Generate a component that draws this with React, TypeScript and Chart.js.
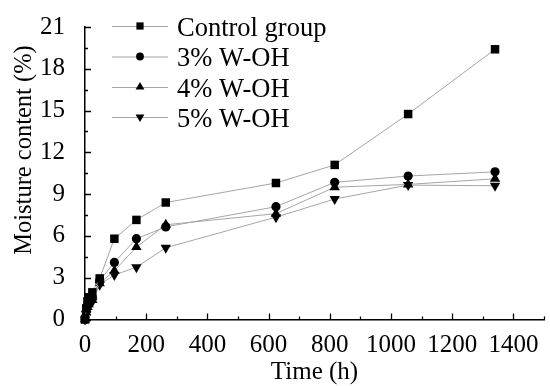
import { useEffect, useRef } from 'react';
import { Chart, registerables } from 'chart.js';

Chart.register(...registerables);

const hours = [0, 4, 8, 12, 24, 48, 96, 168, 264, 624, 816, 1056, 1340];
const seriesLabels = ['Control group', '3% W-OH', '4% W-OH', '5% W-OH'];
const controlGroup = [0, 0.8, 1.3, 1.6, 1.95, 2.95, 5.8, 7.15, 8.4, 9.8, 11.1, 14.75, 19.4];
const woh3 = [0, 0.6, 1.0, 1.3, 1.6, 2.8, 4.1, 5.8, 6.65, 8.1, 9.85, 10.3, 10.6];
const woh4 = [0, 0.5, 0.9, 1.1, 1.4, 2.6, 3.5, 5.2, 6.8, 7.6, 9.5, 9.7, 10.1];
const woh5 = [0, 0.4, 0.8, 1.0, 1.3, 2.5, 3.2, 3.75, 5.15, 7.35, 8.65, 9.65, 9.6];
const xTickValues = [0, 200, 400, 600, 800, 1000, 1200, 1400];
const xMinorValues = [100, 300, 500, 700, 900, 1100, 1300, 1500];
const yTickValues = [0, 3, 6, 9, 12, 15, 18, 21];
const yMinorValues = [1.5, 4.5, 7.5, 10.5, 13.5, 16.5, 19.5];
const xTitle = 'Time (h)';
const yTitle = 'Moisture content (%)';

const FONT = '"Liberation Serif", "Times New Roman", serif';
const LINE_COLOR = 'rgb(165,165,165)';

const markerStyles: any[] = ['rect', 'circle', 'triangle', 'triangle'];
const markerRotations = [0, 0, 0, 180];
const markerRadii = [6, 4.6, 6, 6];

function drawMarker(ctx: CanvasRenderingContext2D, style: string, rot: number, x: number, y: number, r: number) {
  ctx.beginPath();
  if (style === 'rect') {
    const s = r * Math.SQRT1_2;
    ctx.rect(x - s, y - s, 2 * s, 2 * s);
  } else if (style === 'circle') {
    ctx.arc(x, y, r, 0, Math.PI * 2);
  } else {
    let a = (rot * Math.PI) / 180;
    ctx.moveTo(x + Math.sin(a) * r, y - Math.cos(a) * r);
    a += (2 * Math.PI) / 3;
    ctx.lineTo(x + Math.sin(a) * r, y - Math.cos(a) * r);
    a += (2 * Math.PI) / 3;
    ctx.lineTo(x + Math.sin(a) * r, y - Math.cos(a) * r);
    ctx.closePath();
  }
  ctx.fill();
}

const decorPlugin = {
  id: 'decor',
  afterDraw(chart: any) {
    const ctx: CanvasRenderingContext2D = chart.ctx;
    const xs = chart.scales.x;
    const ys = chart.scales.y;
    const area = chart.chartArea;
    ctx.save();
    ctx.strokeStyle = '#000';
    ctx.lineWidth = 1.3;
    // inward ticks
    ctx.beginPath();
    xTickValues.forEach((v) => {
      const px = Math.round(xs.getPixelForValue(v)) + 0.5;
      ctx.moveTo(px, area.bottom);
      ctx.lineTo(px, area.bottom - 6);
    });
    xMinorValues.forEach((v) => {
      const px = Math.round(xs.getPixelForValue(v)) + 0.5;
      ctx.moveTo(px, area.bottom);
      ctx.lineTo(px, area.bottom - 3);
    });
    yTickValues.forEach((v) => {
      const py = Math.round(ys.getPixelForValue(v)) + 0.5;
      ctx.moveTo(area.left, py);
      ctx.lineTo(area.left + 6, py);
    });
    yMinorValues.forEach((v) => {
      const py = Math.round(ys.getPixelForValue(v)) + 0.5;
      ctx.moveTo(area.left, py);
      ctx.lineTo(area.left + 3, py);
    });
    ctx.stroke();

    // axis titles
    ctx.fillStyle = '#000';
    ctx.font = `25px ${FONT}`;
    ctx.textAlign = 'center';
    ctx.textBaseline = 'middle';
    ctx.fillText(xTitle, (area.left + area.right) / 2, 372);
    ctx.save();
    ctx.translate(25, 150);
    ctx.rotate(-Math.PI / 2);
    ctx.font = `24.5px ${FONT}`;
    ctx.fillText(yTitle, 0, 0);
    ctx.restore();

    // legend
    const rowY = [26, 56.5, 87, 117];
    chart.data.datasets.forEach((ds: any, i: number) => {
      const cy = rowY[i];
      ctx.strokeStyle = LINE_COLOR;
      ctx.lineWidth = 1;
      ctx.beginPath();
      ctx.moveTo(112, cy + 0.5);
      ctx.lineTo(168, cy + 0.5);
      ctx.stroke();
      ctx.fillStyle = '#000';
      drawMarker(ctx, markerStyles[i], markerRotations[i], 140, cy, markerRadii[i] * 0.85);
      ctx.font = `26.5px ${FONT}`;
      ctx.textAlign = 'left';
      ctx.textBaseline = 'alphabetic';
      ctx.fillText(ds.label, 177, cy + 9.5);
    });
    ctx.restore();
  },
};

export default function App() {
  const ref = useRef<HTMLCanvasElement | null>(null);
  useEffect(() => {
    if (!ref.current) return;
    document.body.style.margin = '0';
    const seriesValues = [controlGroup, woh3, woh4, woh5];
    const chart = new Chart(ref.current, {
      type: 'line',
      data: {
        datasets: seriesValues.map((vals, i) => ({
          label: seriesLabels[i],
          data: hours.map((h, j) => ({ x: h, y: vals[j] })),
          borderColor: LINE_COLOR,
          borderWidth: 1,
          backgroundColor: '#000',
          pointBackgroundColor: '#000',
          pointBorderColor: '#000',
          pointBorderWidth: 0,
          pointStyle: markerStyles[i],
          pointRotation: markerRotations[i],
          pointRadius: markerRadii[i],
          fill: false,
          tension: 0,
          clip: false as any,
        })),
      },
      options: {
        responsive: false,
        animation: false,
        layout: { padding: { top: 13, right: 5, left: 0, bottom: 0 } },
        plugins: {
          legend: { display: false },
          tooltip: { enabled: false },
        },
        scales: {
          x: {
            type: 'linear',
            min: 0,
            max: 1500,
            grid: { display: false },
            border: { display: true, color: '#000', width: 1.5 },
            afterBuildTicks: (s: any) => {
              s.ticks = xTickValues.map((v) => ({ value: v }));
            },
            afterFit: (s: any) => {
              s.height = 66.5;
            },
            ticks: {
              color: '#000',
              font: { family: FONT, size: 25 },
              padding: 3,
              maxRotation: 0,
              autoSkip: false,
              callback: (v: any) => String(v),
            },
          },
          y: {
            type: 'linear',
            min: 0,
            max: 21,
            grid: { display: false },
            border: { display: true, color: '#000', width: 1.5 },
            afterBuildTicks: (s: any) => {
              s.ticks = yTickValues.map((v) => ({ value: v }));
            },
            afterFit: (s: any) => {
              s.width = 85;
            },
            ticks: {
              color: '#000',
              font: { family: FONT, size: 25 },
              padding: 12,
              autoSkip: false,
              callback: (v: any) => String(v),
            },
          },
        },
      },
      plugins: [decorPlugin],
    });
    return () => chart.destroy();
  }, []);
  return (
    <div style={{ position: 'absolute', left: 0, top: 0, width: 550, height: 386, background: '#fff' }}>
      <canvas ref={ref} width={550} height={386} style={{ display: 'block' }} />
    </div>
  );
}
